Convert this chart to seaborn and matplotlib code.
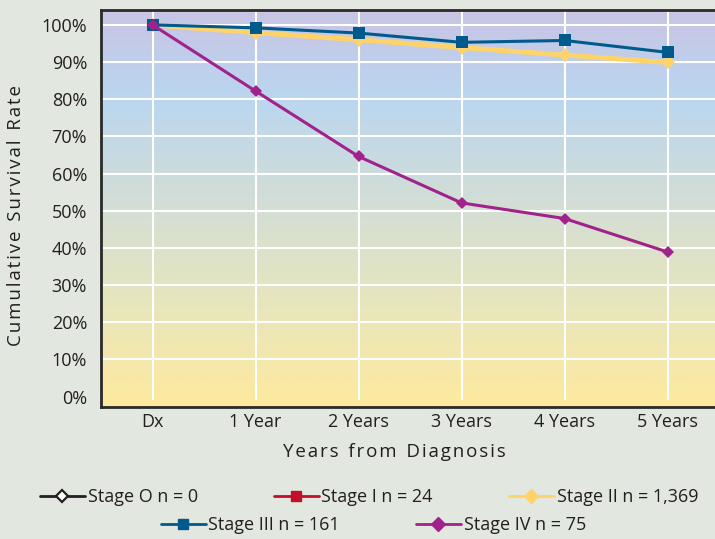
import numpy as np
import pandas as pd
import matplotlib
matplotlib.use("Agg")
import matplotlib.pyplot as plt
from matplotlib.lines import Line2D
from matplotlib.colors import LinearSegmentedColormap
import seaborn as sns

# ---- data ----
years = ["Dx", "1 Year", "2 Years", "3 Years", "4 Years", "5 Years"]
stage_0 = []  # n = 0, no data
stage_1 = [100, 97.9, 96.0, 93.9, 91.9, 89.9]
stage_2 = [100, 97.9, 96.0, 93.9, 91.9, 89.9]
stage_3 = [100, 99.2, 97.8, 95.3, 95.8, 92.6]
stage_4 = [100, 82.2, 64.6, 52.1, 47.9, 38.9]
legend_labels = ["Stage O n = 0", "Stage I n = 24", "Stage II n = 1,369",
                 "Stage III n = 161", "Stage IV n = 75"]
y_ticks = [0, 10, 20, 30, 40, 50, 60, 70, 80, 90, 100]

sns.set_theme(style="white")
plt.rcParams["font.family"] = ["Open Sans", "DejaVu Sans"]


def spaced(s, sep="\u200a"):
    return sep.join(s)


txt = "#231f20"
bg = "#e2e8e0"
fig = plt.figure(figsize=(7.15, 5.39), dpi=100, facecolor=bg)
ax = fig.add_axes([101 / 715, 1 - 407 / 539, 1 - 101 / 715, (407 - 10) / 539])
ax.set_facecolor("none")

# gradient background
cmap = LinearSegmentedColormap.from_list(
    "bgrad",
    [(0.0, (200/255, 196/255, 228/255)),
     (0.22, (186/255, 214/255, 240/255)),
     (0.5, (212/255, 222/255, 212/255)),
     (0.75, (232/255, 230/255, 188/255)),
     (1.0, (255/255, 234/255, 158/255))])
grad = np.linspace(0, 1, 256).reshape(-1, 1)
ax.imshow(grad, cmap=cmap, aspect="auto", extent=[0, 1, 0, 1],
          transform=ax.transAxes, zorder=0, interpolation="bilinear")

series = [
    (stage_1, "#c0102a", "s", 4.5, 2.0),
    (stage_2, "#fdd36a", "D", 7.0, 3.6),
    (stage_3, "#005a8c", "s", 8.0, 2.2),
    (stage_4, "#a0228a", "D", 6.4, 2.2),
]
for i, (vals, col, mk, ms, lw) in enumerate(series):
    df = pd.DataFrame({"year": years, "rate": vals})
    sns.lineplot(data=df, x="year", y="rate", ax=ax, color=col, marker=mk,
                 markersize=ms, linewidth=lw, markeredgewidth=0,
                 zorder=3 + i, sort=False)

ax.set_xlim(-0.5, 5.46)
ax.set_ylim(-2.8, 104)

# gridlines
for yv in y_ticks[1:]:
    ax.axhline(yv, color="white", lw=1.5, zorder=1)
for xi in range(len(years)):
    ax.vlines(xi, -0.8, 104, color="white", lw=1.5, zorder=1)

ax.set_yticks(y_ticks)
ax.set_yticklabels([f"{v}%" for v in y_ticks])
ax.set_xticks(range(len(years)))
ax.set_xticklabels(years)
ax.tick_params(axis="both", length=0, labelsize=13, colors=txt)
ax.tick_params(axis="y", pad=10)
ax.tick_params(axis="x", pad=4)

ax.set_xlabel("  ".join(spaced(w) for w in "Years from Diagnosis".split()),
              fontsize=13.5, color=txt)
ax.xaxis.set_label_coords((394 - 101) / 614, -(443 - 407) / 397)
ax.set_ylabel("  ".join(spaced(w) for w in "Cumulative Survival Rate".split()),
              fontsize=13.5, color=txt)
ax.yaxis.set_label_coords(-(101 - 25) / 614, (407 - 216) / 397)

for s in ["left", "bottom", "top"]:
    ax.spines[s].set_color("#2a2a2a")
    ax.spines[s].set_linewidth(2)
ax.spines["right"].set_visible(False)

# legend
handles = [
    Line2D([], [], color=txt, marker="D", markerfacecolor="white",
           markeredgecolor=txt, markeredgewidth=1.6, markersize=6.5, lw=2),
    Line2D([], [], color="#c0102a", marker="s", markersize=7, lw=2),
    Line2D([], [], color="#fdd36a", marker="D", markersize=7, lw=2),
    Line2D([], [], color="#005a8c", marker="s", markersize=7, lw=2),
    Line2D([], [], color="#a0228a", marker="D", markersize=7, lw=2),
]
kw = dict(frameon=False, fontsize=13, handlelength=2.5, handletextpad=0.15,
          columnspacing=4.2, labelcolor=txt)
leg1 = fig.legend(handles[:3], legend_labels[:3], ncol=3, loc="center",
                  bbox_to_anchor=(0.516, 1 - 497 / 539), **kw)
leg2 = fig.legend(handles[3:], legend_labels[3:], ncol=2, loc="center",
                  bbox_to_anchor=(0.522, 1 - 525 / 539), **kw)

fig.savefig("out.png", dpi=100, facecolor=bg)
